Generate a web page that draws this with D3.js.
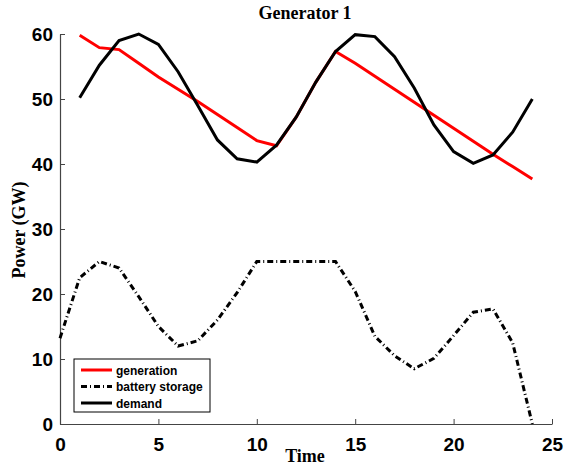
<!DOCTYPE html>
<html>
  <head>
    <title>Generator 1</title>
    <script src="https://d3js.org/d3.v7.min.js"></script>
    <style>
      body { margin: 0; background: #fff; }
    </style>
  </head>
  <body>
    <div id="chart"></div>
    <script>
      // values
      var hours = [1, 2, 3, 4, 5, 6, 7, 8, 9, 10, 11, 12, 13, 14, 15, 16, 17, 18, 19, 20, 21, 22, 23, 24];
      var generation = [59.8, 57.9, 57.6, 55.5, 53.4, 51.5, 49.6, 47.6, 45.6, 43.6, 42.8, 47.2, 52.6, 57.3,
                        55.5, 53.5, 51.5, 49.5, 47.5, 45.5, 43.5, 41.5, 39.6, 37.7];
      var demand = [50.2, 55.2, 59.0, 60.0, 58.4, 54.2, 49.0, 43.7, 40.8, 40.3, 42.9, 47.2, 52.6, 57.3,
                    59.9, 59.6, 56.5, 51.7, 46.0, 41.9, 40.1, 41.4, 44.9, 50.0];
      var storageHours = [0, 1, 2, 3, 4, 5, 6, 7, 8, 9, 10, 11, 12, 13, 14, 15, 16, 17, 18, 19, 20, 21, 22, 23, 24];
      var storage = [13.2, 22.5, 25.0, 24.0, 19.6, 15.0, 12.0, 12.8, 16.0, 20.2, 25.0, 25.0, 25.0, 25.0, 25.0,
                     20.4, 13.5, 10.5, 8.5, 10.1, 13.6, 17.2, 17.7, 12.5, 0];
      var xTicks = [0, 5, 10, 15, 20, 25];
      var yTicks = [0, 10, 20, 30, 40, 50, 60];

      var width = 565, height = 470;
      var margin = {left: 60, right: 13, top: 34, bottom: 46};

      var svg = d3.select('#chart')
        .append('svg')
        .attr('width', width)
        .attr('height', height);

      var x = d3.scaleLinear().domain([0, 25]).range([margin.left, width - margin.right]);
      var y = d3.scaleLinear().domain([0, 60]).range([height - margin.bottom, margin.top]);

      // axes, ticks pointing into the plot
      var xAxis = svg.append('g')
        .attr('transform', 'translate(0,' + y(0) + ')')
        .call(d3.axisBottom(x).tickValues(xTicks).tickSizeInner(-5).tickSizeOuter(0).tickPadding(10));
      var yAxis = svg.append('g')
        .attr('transform', 'translate(' + x(0) + ',0)')
        .call(d3.axisLeft(y).tickValues(yTicks).tickSizeInner(-5).tickSizeOuter(0).tickPadding(7));

      [xAxis, yAxis].forEach(function (g) {
        g.select('.domain').attr('stroke', '#444').attr('stroke-width', 1.2);
        g.selectAll('.tick line').attr('stroke', '#444');
        g.selectAll('.tick text')
          .attr('fill', '#000')
          .style('font-family', 'Liberation Sans, Arial, sans-serif')
          .style('font-weight', 'bold')
          .style('font-size', '19px');
      });
      xAxis.selectAll('.tick text').attr('dy', '0.9em');

      var line = d3.line()
        .x(function (d) { return x(d[0]); })
        .y(function (d) { return y(d[1]); });

      svg.append('path')
        .attr('d', line(d3.zip(hours, generation)))
        .attr('fill', 'none')
        .attr('stroke', '#ff0000')
        .attr('stroke-width', 3);

      svg.append('path')
        .attr('d', line(d3.zip(storageHours, storage)))
        .attr('fill', 'none')
        .attr('stroke', '#000')
        .attr('stroke-width', 3)
        .attr('stroke-dasharray', '6,3,1,3');

      svg.append('path')
        .attr('d', line(d3.zip(hours, demand)))
        .attr('fill', 'none')
        .attr('stroke', '#000')
        .attr('stroke-width', 3);

      // titles
      var serif = 'Liberation Serif, Times New Roman, serif';
      svg.append('text')
        .attr('x', 305).attr('y', 19)
        .attr('text-anchor', 'middle')
        .style('font-family', serif).style('font-weight', 'bold').style('font-size', '18px')
        .text('Generator 1');
      svg.append('text')
        .attr('x', 305).attr('y', 462)
        .attr('text-anchor', 'middle')
        .style('font-family', serif).style('font-weight', 'bold').style('font-size', '18px')
        .text('Time');
      svg.append('text')
        .attr('transform', 'translate(25,230) rotate(-90)')
        .attr('text-anchor', 'middle')
        .style('font-family', serif).style('font-weight', 'bold').style('font-size', '18px')
        .text('Power (GW)');

      // legend
      var legendItems = [
        {label: 'generation', color: '#ff0000', dash: null},
        {label: 'battery storage', color: '#000', dash: '6,3,1,3'},
        {label: 'demand', color: '#000', dash: null}
      ];
      var legend = svg.append('g').attr('transform', 'translate(74,359)');
      legend.append('rect')
        .attr('width', 136).attr('height', 53)
        .attr('fill', '#fff').attr('stroke', '#000').attr('stroke-width', 1);
      legendItems.forEach(function (d, i) {
        var ly = 11 + i * 16.5;
        legend.append('line')
          .attr('x1', 7).attr('x2', 38).attr('y1', ly).attr('y2', ly)
          .attr('stroke', d.color).attr('stroke-width', 3)
          .attr('stroke-dasharray', d.dash);
        legend.append('text')
          .attr('x', 42).attr('y', ly + 4.5)
          .style('font-family', 'Liberation Sans, Arial, sans-serif')
          .style('font-weight', 'bold').style('font-size', '12px')
          .text(d.label);
      });
    </script>
  </body>
</html>
